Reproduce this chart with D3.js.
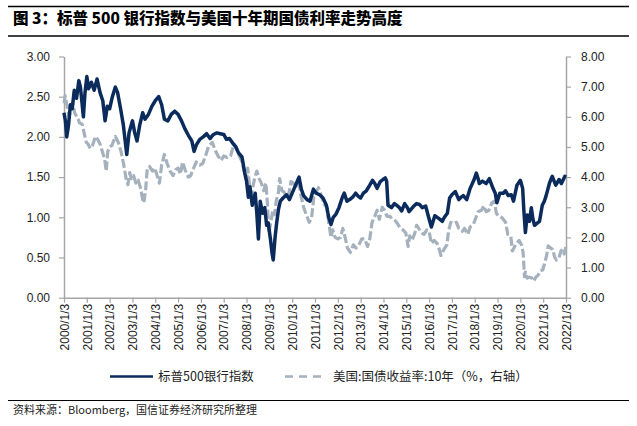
<!DOCTYPE html>
<html><head><meta charset="utf-8">
<script src="https://cdn.jsdelivr.net/npm/d3@7"></script>
<style>
html,body{margin:0;padding:0;background:#fff;}
svg{display:block;}
</style></head><body>
<svg id="c" width="637" height="426"></svg>
<script>
const titleText = "图 3：标普 500 银行指数与美国十年期国债利率走势高度";
const sourceText = "资料来源：Bloomberg，国信证券经济研究所整理";
const seriesNames = ["标普500银行指数", "美国:国债收益率:10年（%，右轴）"];
const xTickYears = d3.range(2000, 2023);
const xTickLabels = xTickYears.map(y => y + "/1/3");
const leftTicks = [0, 0.5, 1, 1.5, 2, 2.5, 3];
const rightTicks = [0, 1, 2, 3, 4, 5, 6, 7, 8];

// S&P 500 bank index (left axis): [decimal year, value]
const bankT = [2000.00,2000.06,2000.12,2000.20,2000.28,2000.36,2000.45,2000.55,2000.65,2000.72,2000.85,2000.92,
2001.00,2001.08,2001.20,2001.32,2001.45,2001.58,2001.70,2001.80,2001.90,2002.00,2002.12,2002.25,2002.35,2002.48,
2002.60,2002.75,2002.85,2003.00,2003.10,2003.20,2003.32,2003.45,2003.55,2003.70,2003.85,2004.00,2004.15,2004.28,
2004.40,2004.55,2004.70,2004.85,2005.00,2005.15,2005.30,2005.45,2005.60,2005.70,2005.80,2005.95,2006.10,2006.25,
2006.40,2006.55,2006.70,2006.85,2007.00,2007.12,2007.25,2007.40,2007.52,2007.65,2007.80,2007.92,2008.00,2008.08,
2008.15,2008.25,2008.38,2008.45,2008.52,2008.60,2008.70,2008.80,2008.88,2008.95,2009.05,2009.12,2009.17,2009.25,
2009.32,2009.40,2009.48,2009.60,2009.75,2009.88,2010.00,2010.15,2010.30,2010.40,2010.50,2010.65,2010.78,2010.93,
2011.05,2011.20,2011.35,2011.50,2011.60,2011.70,2011.80,2011.92,2012.05,2012.20,2012.28,2012.40,2012.52,2012.65,
2012.78,2012.90,2013.00,2013.12,2013.25,2013.40,2013.52,2013.62,2013.72,2013.85,2013.98,2014.08,2014.14,2014.20,
2014.35,2014.48,2014.57,2014.70,2014.80,2014.93,2015.05,2015.12,2015.30,2015.45,2015.58,2015.70,2015.85,2015.98,
2016.10,2016.25,2016.45,2016.58,2016.67,2016.80,2016.90,2017.00,2017.15,2017.30,2017.40,2017.50,2017.65,2017.80,
2017.96,2018.07,2018.15,2018.20,2018.34,2018.50,2018.64,2018.80,2018.90,2018.97,2019.10,2019.25,2019.35,2019.47,
2019.60,2019.70,2019.85,2020.00,2020.10,2020.15,2020.22,2020.30,2020.40,2020.48,2020.55,2020.62,2020.75,2020.84,
2020.96,2021.05,2021.13,2021.28,2021.40,2021.48,2021.55,2021.70,2021.80,2021.95,2022.00];
const bankV = [2.30,2.20,2.00,2.15,2.40,2.35,2.58,2.48,2.70,2.62,2.25,2.55,
2.75,2.60,2.68,2.58,2.72,2.55,2.45,2.20,2.38,2.35,2.50,2.62,2.55,2.35,
2.15,1.78,2.05,2.20,2.05,1.95,2.15,2.30,2.22,2.28,2.38,2.45,2.50,2.40,
2.22,2.20,2.28,2.32,2.28,2.20,2.10,2.02,1.95,1.82,1.90,1.97,2.00,2.04,
1.98,2.03,2.05,2.04,2.03,1.97,1.98,1.92,1.88,1.80,1.75,1.55,1.45,1.25,
1.38,1.15,1.30,1.05,0.73,1.20,1.05,1.12,0.90,0.93,0.72,0.55,0.47,0.75,
0.93,1.10,1.20,1.24,1.28,1.22,1.30,1.40,1.50,1.35,1.27,1.22,1.20,1.35,
1.30,1.28,1.24,1.15,1.00,0.91,1.00,1.04,1.12,1.25,1.30,1.20,1.22,1.25,
1.30,1.26,1.24,1.30,1.33,1.40,1.46,1.42,1.36,1.44,1.47,1.49,1.45,1.15,
1.12,1.17,1.15,1.12,1.08,1.17,1.12,1.07,1.13,1.17,1.16,1.12,1.14,1.00,
0.88,1.02,0.98,0.95,1.00,1.05,1.24,1.28,1.32,1.22,1.25,1.27,1.22,1.36,
1.46,1.55,1.48,1.42,1.45,1.42,1.48,1.36,1.30,1.18,1.30,1.30,1.33,1.27,
1.28,1.20,1.40,1.46,1.36,1.10,0.81,1.03,0.95,1.12,0.98,0.90,0.93,0.95,
1.15,1.20,1.27,1.43,1.51,1.45,1.40,1.47,1.42,1.51,1.50];

// US 10Y Treasury yield, % (right axis)
const yieldT = [2000.00,2000.05,2000.15,2000.22,2000.30,2000.38,2000.48,2000.58,2000.68,2000.80,2000.90,2000.98,
2001.05,2001.15,2001.25,2001.38,2001.48,2001.58,2001.70,2001.78,2001.85,2001.92,2002.00,2002.10,2002.25,2002.38,
2002.50,2002.62,2002.72,2002.80,2002.88,2002.95,2003.05,2003.15,2003.25,2003.35,2003.45,2003.50,2003.58,2003.65,
2003.75,2003.88,2003.98,2004.08,2004.18,2004.28,2004.40,2004.52,2004.65,2004.78,2004.90,2005.00,2005.10,2005.20,
2005.30,2005.45,2005.55,2005.65,2005.80,2005.95,2006.08,2006.20,2006.35,2006.50,2006.62,2006.75,2006.88,2007.00,
2007.15,2007.30,2007.45,2007.55,2007.65,2007.78,2007.90,2008.00,2008.05,2008.15,2008.22,2008.35,2008.45,2008.55,
2008.65,2008.75,2008.85,2008.92,2008.98,2009.05,2009.15,2009.22,2009.30,2009.40,2009.45,2009.55,2009.65,2009.75,
2009.85,2009.95,2010.05,2010.15,2010.27,2010.38,2010.50,2010.62,2010.75,2010.85,2010.95,2011.08,2011.15,2011.25,
2011.40,2011.52,2011.60,2011.70,2011.78,2011.88,2012.00,2012.12,2012.22,2012.32,2012.42,2012.55,2012.68,2012.80,
2012.92,2013.05,2013.18,2013.30,2013.40,2013.50,2013.62,2013.72,2013.82,2013.95,2014.05,2014.15,2014.28,2014.40,
2014.52,2014.62,2014.75,2014.85,2014.98,2015.08,2015.15,2015.25,2015.38,2015.45,2015.55,2015.65,2015.78,2015.90,
2016.00,2016.10,2016.22,2016.35,2016.45,2016.52,2016.65,2016.78,2016.85,2016.95,2017.05,2017.20,2017.30,2017.45,
2017.55,2017.70,2017.80,2017.95,2018.05,2018.15,2018.30,2018.40,2018.50,2018.62,2018.75,2018.85,2018.95,2019.05,
2019.20,2019.35,2019.45,2019.58,2019.65,2019.72,2019.82,2019.95,2020.05,2020.12,2020.18,2020.22,2020.30,2020.40,
2020.50,2020.58,2020.68,2020.78,2020.88,2020.98,2021.05,2021.15,2021.22,2021.32,2021.42,2021.50,2021.58,2021.68,
2021.78,2021.85,2021.92,2022.00];
const yieldV = [6.45,6.70,6.30,6.00,6.25,6.45,6.10,6.00,5.80,5.75,5.40,5.15,
5.10,4.95,5.05,5.35,5.25,5.10,4.80,4.60,4.20,4.85,5.00,5.05,5.35,5.15,
4.85,4.40,3.95,3.75,4.15,3.95,4.05,3.80,3.90,3.65,3.25,3.15,3.60,4.30,
4.35,4.20,4.30,4.05,3.80,4.40,4.75,4.45,4.20,4.05,4.25,4.30,4.10,4.50,
4.25,4.00,4.05,4.25,4.50,4.40,4.45,4.70,5.05,5.15,4.90,4.70,4.55,4.70,
4.65,4.70,5.10,5.00,4.75,4.55,4.20,3.90,4.30,3.60,3.45,3.95,4.20,3.95,
3.80,3.55,3.80,3.05,2.15,2.45,2.90,2.75,3.20,3.50,3.95,3.55,3.50,3.35,
3.45,3.85,3.80,3.65,3.95,3.40,3.00,2.75,2.50,2.65,3.35,3.55,3.65,3.45,
3.10,3.00,2.50,2.00,2.25,2.00,1.95,2.00,2.30,2.00,1.65,1.50,1.75,1.65,
1.75,1.95,1.95,1.70,1.95,2.50,2.70,2.90,2.60,3.00,2.90,2.70,2.70,2.60,
2.55,2.45,2.30,2.25,2.15,1.70,2.05,1.90,2.15,2.40,2.30,2.15,2.10,2.25,
2.20,1.80,1.90,1.80,1.60,1.40,1.60,1.75,2.20,2.50,2.45,2.50,2.30,2.20,
2.30,2.10,2.35,2.45,2.65,2.85,2.90,3.05,2.85,2.90,3.15,3.20,2.80,2.70,
2.65,2.50,2.10,2.05,1.55,1.65,1.80,1.90,1.75,1.50,0.70,0.85,0.65,0.68,
0.65,0.55,0.68,0.75,0.90,0.92,1.10,1.40,1.72,1.65,1.60,1.35,1.25,1.30,
1.55,1.60,1.45,1.70];

const svg = d3.select("#c");
const CJK = "'Noto Sans CJK SC', sans-serif";
const LAT = "'Liberation Sans', Arial, 'Noto Sans CJK SC', sans-serif";

// header
svg.append("line").attr("x1",8).attr("x2",629).attr("y1",6.5).attr("y2",6.5).attr("stroke","#000").attr("stroke-width",1.5);
svg.append("text").attr("x",13).attr("y",24).attr("font-family",CJK).attr("font-weight",900)
  .attr("font-size",15.5).attr("fill","#000").text(titleText);
svg.append("line").attr("x1",8).attr("x2",629).attr("y1",36).attr("y2",36).attr("stroke","#000").attr("stroke-width",1.5);

const m = {l:64, r:566, t:56.5, b:297.7};
const x = d3.scaleLinear().domain([2000, 2022]).range([m.l, m.r]);
const yL = d3.scaleLinear().domain([0, 3]).range([m.b, m.t]);
const yR = d3.scaleLinear().domain([0, 8]).range([m.b, m.t]);

const axisColor = "#a6a6a6";
function styleAxis(g){
  g.selectAll("path.domain").attr("stroke",axisColor).attr("stroke-width",1.5);
  g.selectAll(".tick line").attr("stroke",axisColor).attr("stroke-width",1.2);
  g.selectAll(".tick text").attr("fill","#222").attr("font-family",LAT).attr("font-size",12);
}

const gL = svg.append("g").attr("transform",`translate(${m.l},0)`)
  .call(d3.axisLeft(yL).tickValues(leftTicks).tickFormat(d3.format(".2f")).tickSize(5).tickPadding(9).tickSizeOuter(0));
styleAxis(gL);
const gR = svg.append("g").attr("transform",`translate(${m.r},0)`)
  .call(d3.axisRight(yR).tickValues(rightTicks).tickFormat(d3.format(".2f")).tickSize(5).tickPadding(10).tickSizeOuter(0));
styleAxis(gR);
const gX = svg.append("g").attr("transform",`translate(0,${m.b})`)
  .call(d3.axisBottom(x).tickValues(xTickYears).tickFormat((d,i)=>xTickLabels[i]).tickSize(5).tickSizeOuter(0));
styleAxis(gX);
gX.selectAll(".tick text").attr("text-anchor","end").attr("transform","rotate(-90)")
  .attr("x",-6).attr("y",0).attr("dy","0.35em");

// lines
const yieldData = yieldT.map((t,i)=>[t,yieldV[i]]);
const bankData = bankT.map((t,i)=>[t,bankV[i]]);
svg.append("path").datum(yieldData)
  .attr("d", d3.line().x(d=>x(d[0])).y(d=>yR(d[1])))
  .attr("fill","none").attr("stroke","#a5b1bd").attr("stroke-width",3.2).attr("stroke-dasharray","9,3")
  .attr("stroke-linejoin","round");
svg.append("path").datum(bankData)
  .attr("d", d3.line().x(d=>x(d[0])).y(d=>yL(d[1])))
  .attr("fill","none").attr("stroke","#0b2b5c").attr("stroke-width",3.5)
  .attr("stroke-linejoin","round");

// legend
const ly = 376.5;
svg.append("line").attr("x1",110).attr("x2",153).attr("y1",ly).attr("y2",ly).attr("stroke","#0b2b5c").attr("stroke-width",2.5);
svg.append("text").attr("x",158).attr("y",ly+4.5).attr("font-family",CJK).attr("font-size",12.5).attr("fill","#222").text(seriesNames[0]);
svg.append("line").attr("x1",285).attr("x2",322).attr("y1",ly).attr("y2",ly).attr("stroke","#a5b1bd").attr("stroke-width",2.5).attr("stroke-dasharray","8,6");
svg.append("text").attr("x",333).attr("y",ly+4.5).attr("font-family",CJK).attr("font-size",12.5).attr("fill","#222").text(seriesNames[1]);

// footer
svg.append("line").attr("x1",8).attr("x2",629).attr("y1",400.5).attr("y2",400.5).attr("stroke","#000").attr("stroke-width",1.2);
svg.append("text").attr("x",13).attr("y",414).attr("font-family",CJK).attr("font-size",11).attr("fill","#222").text(sourceText);
</script>
</body></html>
